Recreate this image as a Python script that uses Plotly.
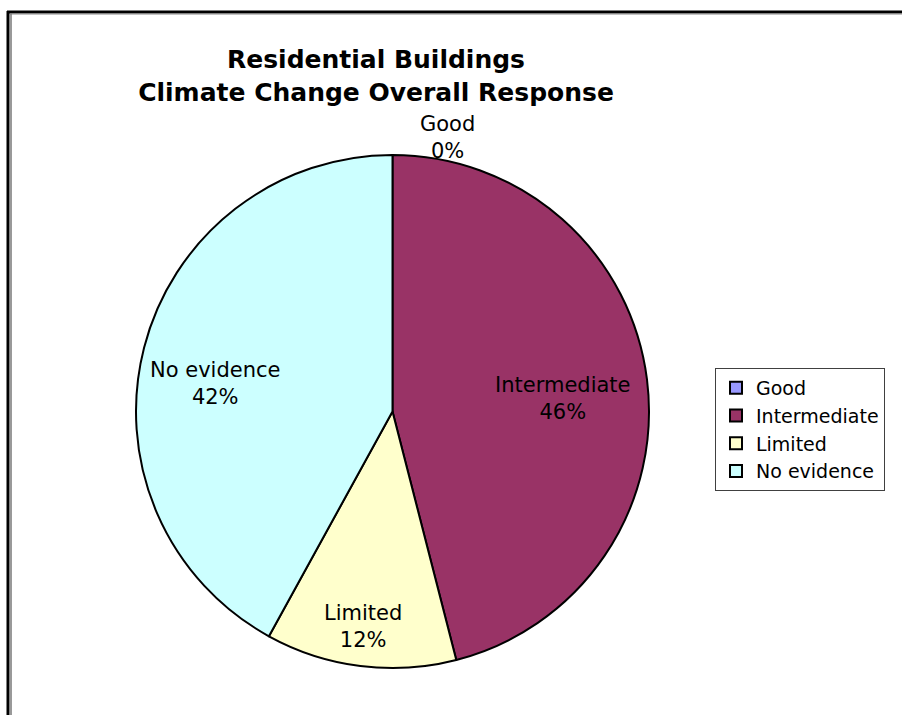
import plotly.graph_objects as go

W, H = 902, 715

labels = ["Good", "Intermediate", "Limited", "No evidence"]
values = [0, 46, 12, 42]
colors = ["#9999FF", "#993366", "#FFFFCC", "#CCFFFF"]

title_lines = ["Residential Buildings", "Climate Change Overall Response"]

# label anchor positions (pixels in the 902x715 page)
label_pos = {
    "Good": (447, 137),
    "Intermediate": (563, 398),
    "Limited": (363, 626),
    "No evidence": (215, 383),
}

def px(x):
    return x / W

def py(y):
    return 1 - y / H

fig = go.Figure()
fig.add_trace(go.Pie(
    labels=labels,
    values=values,
    sort=False,
    direction="clockwise",
    rotation=0,
    marker=dict(colors=colors, line=dict(color="black", width=2)),
    textinfo="none",
    hoverinfo="label+percent",
    domain=dict(x=[px(135), px(650)], y=[py(668), py(155)]),
))

total = sum(values)
annotations = []
for lab, val in zip(labels, values):
    x, y = label_pos[lab]
    annotations.append(dict(
        x=px(x), y=py(y), xref="paper", yref="paper",
        xanchor="center", yanchor="middle",
        text=f"{lab}<br>{round(100 * val / total)}%",
        showarrow=False,
        font=dict(family="DejaVu Sans", size=21, color="black"),
        align="center",
    ))

shapes = [
    # top frame line (black + gray)
    dict(type="line", xref="paper", yref="paper", x0=px(7), x1=1, y0=py(12), y1=py(12),
         line=dict(color="black", width=3)),
    dict(type="line", xref="paper", yref="paper", x0=px(10), x1=1, y0=py(14), y1=py(14),
         line=dict(color="#888888", width=1)),
    # left frame double line
    dict(type="line", xref="paper", yref="paper", x0=px(8), x1=px(8), y0=0, y1=py(11),
         line=dict(color="black", width=3)),
    dict(type="line", xref="paper", yref="paper", x0=px(11), x1=px(11), y0=0, y1=py(13),
         line=dict(color="#777777", width=1.5)),
]

fig.update_layout(
    width=W, height=H,
    margin=dict(l=0, r=0, t=0, b=0),
    paper_bgcolor="white",
    plot_bgcolor="white",
    title=dict(
        text="<b>" + "<br>".join(title_lines) + "</b>",
        x=px(376), xanchor="center",
        y=py(68), yanchor="middle",
        font=dict(family="DejaVu Sans", size=25, color="black"),
    ),
    legend=dict(
        x=px(715), xanchor="left",
        y=py(368), yanchor="top",
        bordercolor="#404040", borderwidth=1,
        bgcolor="white",
        font=dict(family="DejaVu Sans", size=19, color="black"),
        traceorder="normal",
    ),
    annotations=annotations,
    shapes=shapes,
)

fig.write_html("out.html", config={"displayModeBar": False},
               post_script="document.body.style.margin='0';")
